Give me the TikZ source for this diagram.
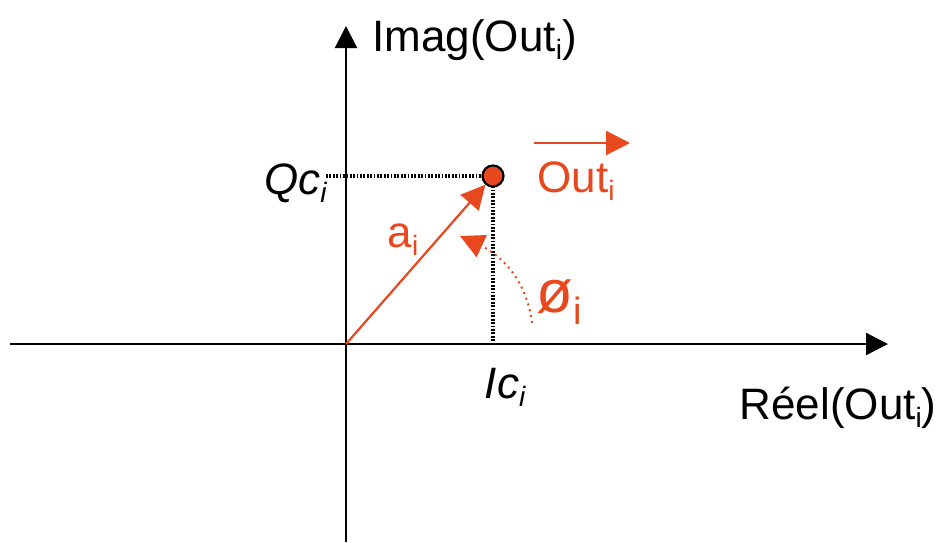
\documentclass[tikz,border=0pt]{standalone}
\usepackage{fontspec}
\setmainfont{Liberation Sans}
\usetikzlibrary{arrows.meta}
\definecolor{outred}{RGB}{232,72,30}
\newcommand{\subi}[1]{\raisebox{-.35ex}{\fontsize{14}{14}\selectfont #1}}
\tikzset{
  axis/.style={line width=1.1pt, -{Triangle[length=11pt, width=11pt]}},
  proj/.style={line width=1.6pt, dash pattern=on 0.9pt off 0.8pt},
  vec/.style={outred, line width=1.1pt, -{Triangle[length=12pt, width=12pt]}},
  phase/.style={outred, line width=1pt, dotted, -{Triangle[length=12pt, width=12pt]}},
  pt/.style={circle, draw, line width=1.1pt, fill=outred, minimum size=10.5pt, inner sep=0pt},
  lbl/.style={font=\fontsize{22}{26}\selectfont, inner sep=0pt},
  rlbl/.style={lbl, text=outred}
}
\begin{document}
\begin{tikzpicture}[x=0.5pt, y=-0.5pt]
\useasboundingbox (0,0) rectangle (940,542);
% axes
\coordinate (O) at (346,344);
\coordinate (xl) at (10,344);
\coordinate (xr) at (888,344);
\coordinate (yb) at (346,542);
\coordinate (yt) at (346,26);
\draw[axis] (xl) -- (xr);
\draw[axis] (yb) -- (yt);
% projections
\coordinate (qc) at (326,176);
\coordinate (ic) at (493,344);
\coordinate (pc) at (493,176);
\draw[proj] (qc) -- (pc);
\draw[proj] (pc) -- (ic);
% vector and phase
\node[pt] (P) at (pc) {};
\draw[vec] (O) -- (P);
\coordinate (phs) at (532,323);
\coordinate (phe) at (460,236);
\draw[phase] (phs) to[out=97, in=-25] (phe);
\coordinate (os) at (534,143);
\coordinate (oe) at (630,143);
\draw[vec] (os) -- (oe);
% labels
\node[lbl, anchor=west] (imag) at (372,40) {Imag(Out\subi{i})};
\node[lbl, anchor=east] (reel) at (937,408) {Réel(Out\subi{i})};
\node[lbl, anchor=east] (qlab) at (327,183) {\itshape Qc\subi{\itshape i}};
\node[lbl] (ilab) at (505,387) {\itshape Ic\subi{\itshape i}};
\node[rlbl, anchor=west] (olab) at (537,181) {Out\subi{i}};
\node[rlbl] (alab) at (403,240) {a\subi{i}};
\node[rlbl, font=\fontsize{30}{34}\selectfont] (phlab) at (559,302) {ø\raisebox{-.4ex}{\fontsize{19}{19}\selectfont i}};
\end{tikzpicture}
\end{document}
